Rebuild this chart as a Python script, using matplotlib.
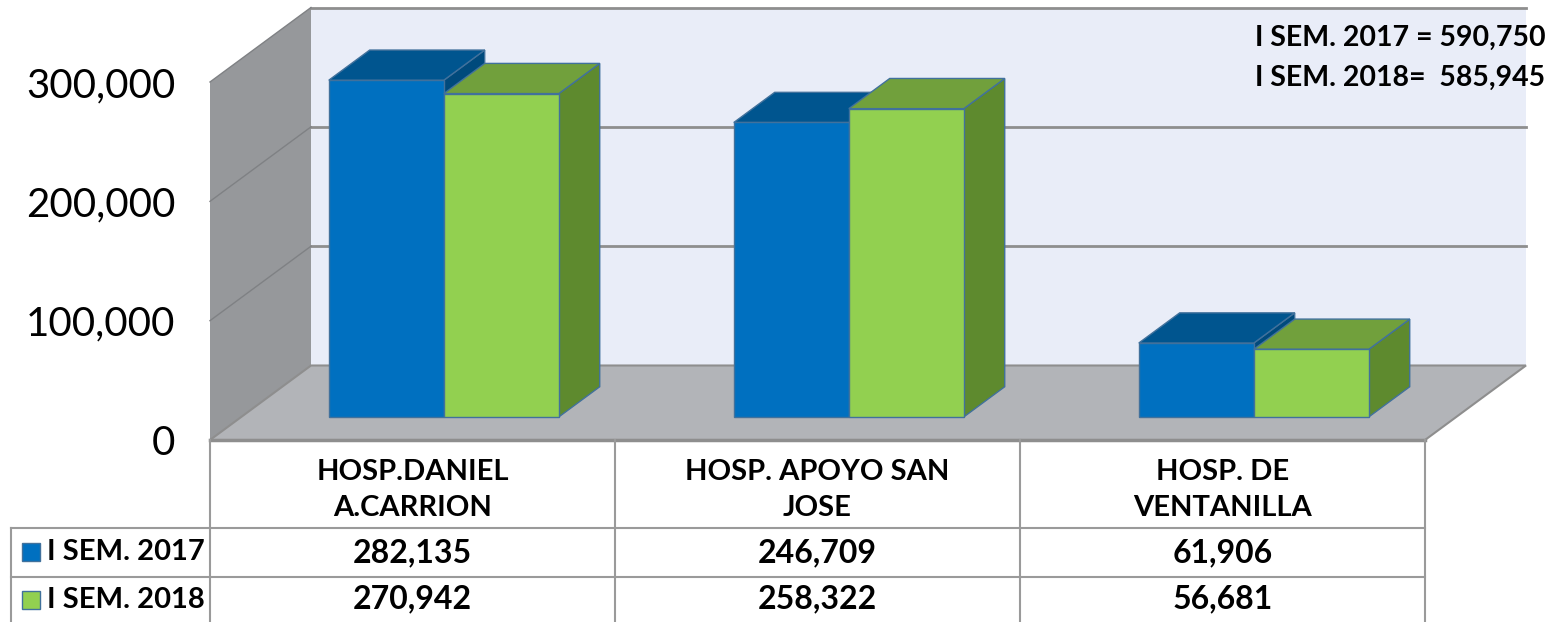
import matplotlib.pyplot as plt
from matplotlib.patches import Polygon, Rectangle

categories = ["HOSP.DANIEL\nA.CARRION", "HOSP. APOYO SAN\nJOSE", "HOSP. DE\nVENTANILLA"]
series_names = ["I SEM. 2017", "I SEM. 2018"]
sem_2017 = [282135, 246709, 61906]
sem_2018 = [270942, 258322, 56681]
totals = ["I SEM. 2017 = 590,750", "I SEM. 2018=  585,945"]
yticks = [0, 100000, 200000, 300000]

front_colors = ["#0070C0", "#92D050"]
top_colors = ["#00558F", "#71A03C"]
side_colors = ["#004A7C", "#5E8A2E"]
edge = "#41719C"
grid_c = "#8E8E8E"

plt.rcParams['font.family'] = ['Lato', 'DejaVu Sans']

W, H = 1558, 622
fig = plt.figure(figsize=(W / 100, H / 100), dpi=100)
# axes = front plane of the 3-D box
ax = fig.add_axes([210 / W, 1 - 440 / H, 1215 / W, 358 / H])
ax.set_xlim(0, 3)
ax.set_ylim(0, 300000)
ymax = 300000

# depth vector (front -> back wall) in data units
dx = 101 / 1215 * 3
dy = 74.5 / 358 * ymax


def xd(px):
    return (px - 210) / 1215 * 3


def yf(py):
    return (440 - py) / 358


def poly(pts, fc, ec="none", lw=0, z=1):
    ax.add_patch(Polygon(pts, closed=True, facecolor=fc, edgecolor=ec,
                         linewidth=lw, zorder=z, clip_on=False))


# walls and floor
poly([(dx, dy), (3 + dx, dy), (3 + dx, ymax + dy), (dx, ymax + dy)], "#E9EDF8", z=1)
poly([(0, 0), (dx, dy), (dx, ymax + dy), (0, ymax)], "#96989B", z=1)
poly([(0, 0), (3, 0), (3 + dx, dy), (dx, dy)], "#B2B4B8", ec="#8E8E8E", lw=1.5, z=1)

for v in yticks[1:]:
    ax.plot([dx, 3 + dx], [v + dy, v + dy], color=grid_c, lw=2, zorder=2, clip_on=False)
    ax.plot([0, dx], [v, v + dy], color="#7F8184", lw=1, zorder=2, clip_on=False)
ax.plot([0, 3], [0, 0], color=grid_c, lw=2.5, zorder=2, clip_on=False)

# bars
t0 = 0.31   # front face depth
bd = 0.405  # bar depth
bw = 0.284  # bar width
values = [sem_2017, sem_2018]
for i in range(len(categories)):
    for s in range(2):
        v = values[s][i]
        x0 = i + 0.5 - bw + s * bw + t0 * dx
        x1 = x0 + bw
        y0 = t0 * dy
        y1 = v + t0 * dy
        ox, oy = bd * dx, bd * dy
        z = 3 + s
        poly([(x1, y0), (x1 + ox, y0 + oy), (x1 + ox, y1 + oy), (x1, y1)],
             side_colors[s], edge, 1, z)
        poly([(x0, y1), (x1, y1), (x1 + ox, y1 + oy), (x0 + ox, y1 + oy)],
             top_colors[s], edge, 1, z)
        poly([(x0, y0), (x1, y0), (x1, y1), (x0, y1)],
             front_colors[s], edge, 1, z)

ax.set_yticks(yticks, labels=[f"{v:,}" for v in yticks])
ax.tick_params(axis='y', length=0, pad=25, labelsize=29)
ax.set_xticks([])
for sp in ax.spines.values():
    sp.set_visible(False)
ax.patch.set_visible(False)

# data table
tr = ax.get_xaxis_transform()
tc = "#9A9A9A"
for py in [528, 577]:
    ax.plot([xd(11), 3], [yf(py), yf(py)], color=tc, lw=1.5, transform=tr, clip_on=False)
for x in [0, 1, 2, 3]:
    ax.plot([x, x], [0, yf(625)], color=tc, lw=1.5, transform=tr, clip_on=False)
ax.plot([xd(11), xd(11)], [yf(528), yf(625)], color=tc, lw=1.5, transform=tr, clip_on=False)

for i, cat in enumerate(categories):
    ax.text(i + 0.5, yf(490), cat, transform=tr, ha='center', va='center',
            fontsize=21, fontweight='bold', linespacing=1.45)
    for s, py in enumerate([553, 599]):
        ax.text(i + 0.5, yf(py), f"{values[s][i]:,}", transform=tr, ha='center',
                va='center', fontsize=23, fontweight='bold')

for s, py in enumerate([552, 600]):
    ax.add_patch(Rectangle((xd(22), yf(py + 9)), xd(40) - xd(22), yf(py - 9) - yf(py + 9),
                           facecolor=front_colors[s], edgecolor=edge, lw=1,
                           transform=tr, clip_on=False))
    ax.text(xd(47), yf(py), series_names[s], transform=tr, ha='left', va='center',
            fontsize=21, fontweight='bold')

for k, py in enumerate([38, 78]):
    fig.text(1255 / W, 1 - py / H, totals[k], ha='left', va='center',
             fontsize=20.5, fontweight='bold')

fig.savefig("out.png", dpi=100)
